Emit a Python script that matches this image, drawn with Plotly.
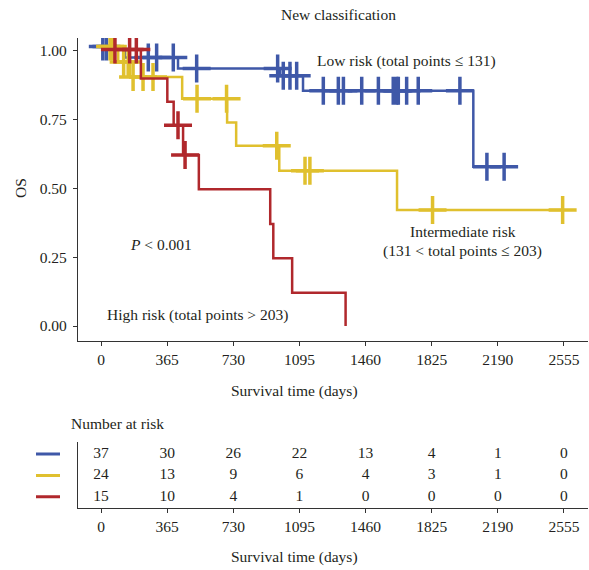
import plotly.graph_objects as go

W, H = 589, 570

# ---------------- data ----------------
day_ticks = [0, 365, 730, 1095, 1460, 1825, 2190, 2555]
os_ticks = [0.0, 0.25, 0.50, 0.75, 1.00]
os_ticklabels = ["0.00", "0.25", "0.50", "0.75", "1.00"]

# Low risk (blue): step change times, survival levels, censor times
low_times = [0, 132, 425, 988, 1115, 2055]
low_surv = [1.016, 0.976, 0.936, 0.91, 0.855, 0.579]
low_end = 2225
low_censor = [10, 30, 261, 307, 399, 528, 975, 1006, 1043, 1080, 1227, 1310, 1338,
              1439, 1531, 1613, 1632, 1641, 1687, 1751, 1981, 2130, 2225]

# Intermediate risk (yellow)
int_times = [0, 95, 160, 448, 696, 746, 984, 1634]
int_surv = [1.016, 0.96, 0.905, 0.826, 0.74, 0.655, 0.564, 0.422]
int_end = 2548
int_censor = [50, 65, 125, 150, 177, 232, 287, 530, 693, 970, 1126, 1153, 1830, 2548]

# High risk (red)
high_times = [0, 220, 366, 401, 453, 540, 934, 951, 1055, 1350]
high_surv = [1.005, 0.90, 0.815, 0.73, 0.622, 0.497, 0.371, 0.246, 0.121, 0.0]
high_end = 1350
high_censor = [77, 158, 195, 425, 464]

# Number at risk table
risk_low = [37, 30, 26, 22, 13, 4, 1, 0]
risk_int = [24, 13, 9, 6, 4, 3, 1, 0]
risk_high = [15, 10, 4, 1, 0, 0, 0, 0]

# ---------------- styling ----------------
BLUE = "#3F58A8"
YELLOW = "#E0C02E"
RED = "#B0282C"
TXT = "#231F20"
FONT = "Liberation Serif"
FS = 15.5


def fx(px):
    return px / W


def fy(py):
    return 1 - py / H


def level_at(times, surv, t):
    v = surv[0]
    for ti, si in zip(times, surv):
        if ti <= t:
            v = si
    return v


fig = go.Figure()

groups = [
    (low_times, low_surv, low_end, low_censor, BLUE),
    (int_times, int_surv, int_end, int_censor, YELLOW),
    (high_times, high_surv, high_end, high_censor, RED),
]
for times, surv, end, cens, col in groups:
    xs = list(times) + [end]
    ys = list(surv) + [surv[-1]]
    fig.add_trace(go.Scatter(x=xs, y=ys, mode="lines", line=dict(color=col, width=2.5, shape="hv"),
                             xaxis="x", yaxis="y", hoverinfo="skip", showlegend=False))
    fig.add_trace(go.Scatter(x=cens, y=[level_at(times, surv, c) for c in cens], mode="markers",
                             marker=dict(symbol="cross-thin", size=20, color=col,
                                         line=dict(color=col, width=3.5)),
                             xaxis="x", yaxis="y", hoverinfo="skip", showlegend=False))

# risk table numbers
for row, vals in zip([3, 2, 1], [risk_low, risk_int, risk_high]):
    fig.add_trace(go.Scatter(x=day_ticks, y=[row] * len(vals), mode="text",
                             text=[str(v) for v in vals],
                             textfont=dict(family=FONT, size=FS, color=TXT),
                             xaxis="x2", yaxis="y2", hoverinfo="skip", showlegend=False))

# legend-like coloured lines for the table
shapes = []
for row, col in zip([3, 2, 1], [BLUE, YELLOW, RED]):
    shapes.append(dict(type="line", xref="paper", yref="y2", x0=fx(36), x1=fx(60), y0=row, y1=row,
                       line=dict(color=col, width=3)))

axis_common = dict(showgrid=False, zeroline=False, showline=True, linecolor="#333333", linewidth=1.2,
                   ticks="outside", ticklen=4, tickcolor="#333333", tickwidth=1.2,
                   tickfont=dict(family=FONT, size=FS, color=TXT))

x_range = [-127, 2688]
fig.update_layout(
    width=W, height=H,
    margin=dict(l=0, r=0, t=0, b=0),
    paper_bgcolor="white", plot_bgcolor="white",
    xaxis=dict(domain=[fx(78), fx(588)], range=x_range, tickvals=day_ticks,
               anchor="y", **axis_common),
    yaxis=dict(domain=[fy(341), fy(38)], range=[-0.0545, 1.047], tickvals=os_ticks,
               ticktext=os_ticklabels, anchor="x", ticklabelstandoff=3, **axis_common),
    xaxis2=dict(domain=[fx(78), fx(588)], range=x_range, tickvals=day_ticks,
                anchor="y2", **axis_common),
    yaxis2=dict(domain=[fy(508), fy(441.7)], range=[0.47, 3.58], anchor="x2",
                showgrid=False, zeroline=False, showline=True, linecolor="#333333", linewidth=1.2,
                showticklabels=False, ticks=""),
    shapes=shapes,
)

ann_font = dict(family=FONT, size=FS, color=TXT)
annotations = [
    dict(text="New classification", x=fx(338), y=fy(15)),
    dict(text="Low risk (total points ≤ 131)", x=fx(406.5), y=fy(60.7)),
    dict(text="Intermediate risk", x=fx(462.8), y=fy(231.7)),
    dict(text="(131 < total points ≤ 203)", x=fx(462.5), y=fy(251)),
    dict(text="<i>P</i> < 0.001", x=fx(161), y=fy(244.3)),
    dict(text="High risk (total points > 203)", x=fx(197), y=fy(315)),
    dict(text="Survival time (days)", x=fx(294.7), y=fy(390.7)),
    dict(text="Survival time (days)", x=fx(294.7), y=fy(557)),
    dict(text="OS", x=fx(20), y=fy(188), textangle=-90),
]
anns = []
for a in annotations:
    d = dict(xref="paper", yref="paper", showarrow=False, xanchor="center", yanchor="middle",
             font=ann_font)
    d.update(a)
    anns.append(d)
anns.append(dict(text="Number at risk", xref="paper", yref="paper", x=fx(69), y=fy(423),
                 xanchor="left", yanchor="middle", showarrow=False, font=ann_font))
fig.update_layout(annotations=anns)

fig.write_html("out.html")
